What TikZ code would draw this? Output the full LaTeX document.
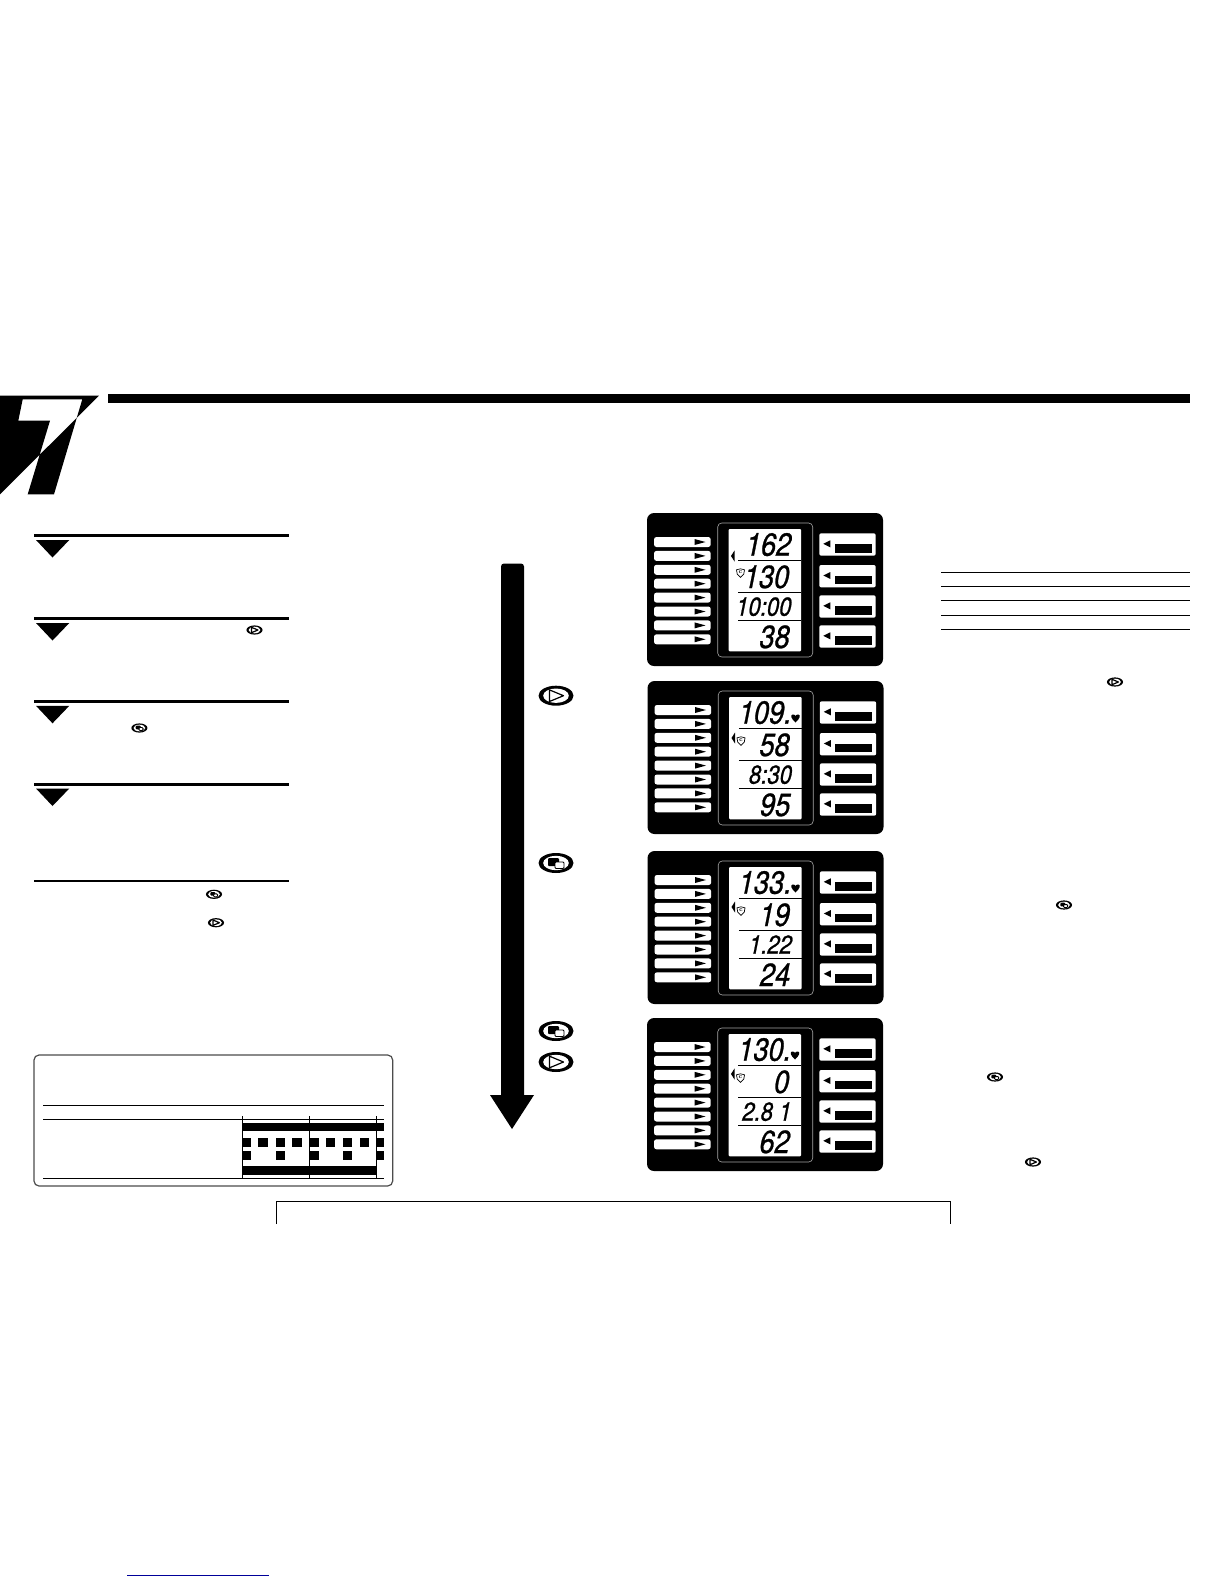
\documentclass[tikz,border=0pt]{standalone}
\usepackage{fontspec}
\usepackage{xcolor}
\usetikzlibrary{calc}
\newfontfamily\lcdfont{TeX Gyre Heros}[FakeStretch=0.85, FakeSlant=0.2, FakeBold=0.8]
\tikzset{
  rulethick/.style={line width=3pt},
  rulethin/.style={line width=1pt},
  lcddigit/.style={anchor=base east, inner sep=0pt, font=\fontsize{32}{32}\lcdfont\selectfont},
  lcdsmall/.style={lcddigit, font=\fontsize{26}{26}\lcdfont\selectfont},
  playbtn/.pic={
    \fill[black] (0,0) ellipse (17.5 and 10);
    \fill[white] (0,0) ellipse (12.8 and 7.2);
    \draw[line width=1.2pt, fill=white, line join=round] (-6.5,-5.8) -- (7.5,0) -- (-6.5,5.8) -- cycle;
  },
  swapbtn/.pic={
    \fill[black] (0,0) ellipse (17.5 and 10);
    \fill[white] (0,0) ellipse (12.8 and 7.2);
    \fill[black, rounded corners=1pt] (-8,-5) rectangle (3,3);
    \draw[line width=.9pt, fill=white, rounded corners=1pt] (-1,-1) rectangle (8,5.5);
  },
  smallbtn/.style={scale=0.46},
}
\begin{document}
\begin{tikzpicture}[x=1pt, y=-1pt]
  \useasboundingbox (0,0) rectangle (1224,1584);
  \fill[white] (0,0) rectangle (1224,1584);
  % Header bar and chapter mark
  \fill[black] (108,394) rectangle (1190,402.7);
  \fill[black, even odd rule] (0,395.7) -- (99,395.7) -- (0,494.3) -- cycle
    (22.7,399.3) -- (82.3,399.3) -- (54,494.3) -- (27.7,494.3) -- (50,420.7) -- (18.3,420.7) -- cycle;
  % Left column rules with step triangles
  \foreach \y in {535.5,618.5,701.3,784} {
    \draw[rulethick] (34,\y) -- (289,\y);
    \fill[black] (36,\y+4.5) -- (69.3,\y+4.5) -- (52.5,\y+22) -- cycle;
  }
  \draw[line width=2pt] (34,880.7) -- (289,880.7);
  % Right column rules
  \foreach \y in {572.3,586.3,600.3,615.3,629.3} {
    \draw[rulethin] (941,\y) -- (1190,\y);
  }
  % Small buttons in the text
  \foreach \x/\y in {254.5/630,216/922.7,1115/682,1033/1162} {
    \pic[smallbtn] at (\x,\y) {playbtn};
  }
  \foreach \x/\y in {139.4/728,214/894.3,1064/905,995/1077} {
    \pic[smallbtn] at (\x,\y) {swapbtn};
  }
  % Large buttons beside the arrow
  \pic at (556,695.7) {playbtn};
  \pic at (556,863) {swapbtn};
  \pic at (556,1031) {swapbtn};
  \pic at (556,1062) {playbtn};
  % Long arrow
  \fill[black, rounded corners=3pt] (501,1100) -- (501,563.5) -- (524,563.5) -- (524,1100) -- cycle;
  \fill[black] (490,1095) -- (534,1095) -- (512,1129) -- cycle;
  % Four displays
  \foreach \px/\py/\mk/\ra/\rb/\rc/\rd in {
      647/513/43/162/130/10:00/38,
      647.5/681/57/109./58/8:30/95,
      647.5/851/56/133./19/1.22/24,
      647/1018/56/130./0/2.8 1/62} {
    \begin{scope}[shift={(\px,\py)}]
      \fill[black, rounded corners=7pt] (0,0) rectangle (236,153);
      \draw[gray!70, line width=.6pt, rounded corners=4pt] (70.7,10) rectangle (165.7,144);
      \fill[white, rounded corners=1pt] (81.7,16) rectangle (154,138.3);
      \foreach \y in {47,79,107} {
        \draw[line width=1pt] (91.3,\y) -- (154,\y);
      }
      % Bars on the left
      \foreach \i in {0,...,7} {
        \fill[white, rounded corners=2.5pt] (7,24+13.9*\i) rectangle (63.7,34+13.9*\i);
        \fill[black] (47.5,26+13.9*\i) -- (58.5,29+13.9*\i) -- (47.5,32+13.9*\i) -- cycle;
      }
      % Boxes on the right
      \foreach \y in {20.3,52,82.3,112.3} {
        \fill[white, rounded corners=2pt] (172.3,\y) rectangle (228.7,\y+22.4);
        \fill[black] (183.3,\y+7) -- (176.3,\y+10.5) -- (183.3,\y+14) -- cycle;
        \fill[black] (187.5,\y+11) rectangle (224.7,\y+19.3);
      }
      % Marker and crest
      \fill[black] (87.5,\mk-5.5) -- (84,\mk) -- (87.5,\mk+5.5) -- cycle;
      \draw[line width=.7pt] (89.5,56.8) -- (93.5,55.8) -- (97.5,56.8) -- (96.8,61) -- (93.5,64.3) -- (90.2,61) -- cycle;
      \node[inner sep=0pt, font=\fontsize{6}{6}\selectfont\bfseries] (crest) at (93.5,59.5) {c};
      % Readouts
      \node[lcddigit] (rowa) at (143,42.7) {\ra};
      \node[lcddigit] (rowb) at (141,75) {\rb};
      \node[lcdsmall] (rowc) at (143.5,102.7) {\rc};
      \node[lcddigit] (rowd) at (141.5,135) {\rd};
    \end{scope}
  }
  % Hearts
  \foreach \px/\py in {647.5/681,647.5/851,647/1018} {
    \fill[black] (\px+148,\py+41.5) .. controls (\px+143.5,\py+37.5) and (\px+142.5,\py+34) .. (\px+145,\py+33.5)
      .. controls (\px+146.5,\py+33.3) and (\px+147.5,\py+34) .. (\px+148,\py+35)
      .. controls (\px+148.5,\py+34) and (\px+149.5,\py+33.3) .. (\px+151,\py+33.5)
      .. controls (\px+153.5,\py+34) and (\px+152.5,\py+37.5) .. (\px+148,\py+41.5) -- cycle;
  }
  % Boxed chart
  \draw[gray!60!black, line width=1.2pt, rounded corners=5pt] (34,1055) rectangle (392.7,1186);
  \foreach \y in {1105.3,1119.3,1178.3} {
    \draw[rulethin] (43,\y) -- (384,\y);
  }
  \foreach \x in {242.3,309.3,376.3} {
    \draw[rulethin] (\x,1116) -- (\x,1178.3);
  }
  \fill[black] (242.3,1123) rectangle (384,1130.7);
  \fill[black] (242.3,1166) rectangle (376.3,1174.7);
  \foreach \a/\b in {242.3/251,258.3/267.7,276/285,292.3/301.7,310/318.7,326/335,343.3/352,360/369,376.3/384} {
    \fill[black] (\a,1138.3) rectangle (\b,1146.7);
  }
  \foreach \a/\b in {242.3/251,276/285,310/318.7,343.3/352,376.3/384} {
    \fill[black] (\a,1151) rectangle (\b,1159.7);
  }
  % Bottom frame, cut off
  \draw[rulethin] (276.3,1224) -- (276.3,1201.3) -- (950.3,1201.3) -- (950.3,1224);
  % Link underline
  \draw[blue!60!black, line width=1pt] (127,1575.5) -- (269,1575.5);
\end{tikzpicture}
\end{document}
